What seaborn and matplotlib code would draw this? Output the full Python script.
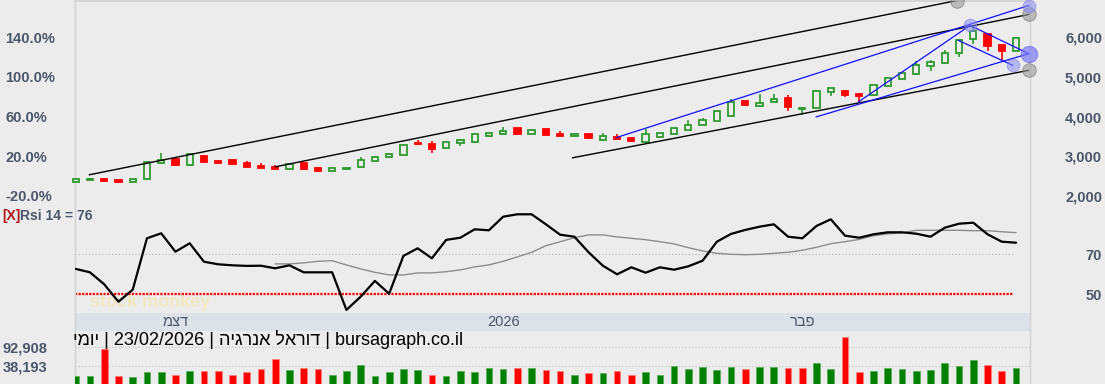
import numpy as np
import matplotlib
matplotlib.use("Agg")
import matplotlib.pyplot as plt
import seaborn as sns

# == DATA ==
# daily candles (price)
opens = [2349, 2391, 2432, 2399, 2341, 2417, 2819, 2919, 2768, 3010,
         2876, 2894, 2834, 2751, 2726, 2675, 2826, 2701, 2618, 2668,
         2726, 2869, 2970, 3027, 3336, 3311, 3203, 3321, 3347, 3512,
         3555, 3713, 3562, 3681, 3562, 3497, 3547, 3404, 3487, 3462,
         3346, 3472, 3555, 3655, 3781, 3894, 4017, 4379, 4276, 4367,
         4474, 4200, 4225, 4623, 4635, 4560, 4534, 4761, 4954, 5062,
         5271, 5339, 5598, 5942, 6075, 5791, 5640]
highs = [2432, 2442, 2440, 2405, 2420, 2850, 3078, 2930, 3060, 3035,
         2885, 2900, 2876, 2826, 2768, 2800, 2835, 2726, 2715, 2715,
         2977, 3002, 3085, 3280, 3412, 3371, 3370, 3405, 3555, 3588,
         3731, 3720, 3690, 3690, 3630, 3570, 3555, 3588, 3571, 3470,
         3676, 3580, 3720, 3907, 3950, 4150, 4433, 4390, 4564, 4560,
         4541, 4245, 4660, 4725, 4640, 4577, 4795, 4978, 5105, 5402,
         5414, 5683, 5945, 6294, 6085, 5800, 5985]
lows = [2331, 2366, 2375, 2350, 2338, 2410, 2810, 2775, 2760, 2845,
        2809, 2800, 2725, 2705, 2678, 2668, 2678, 2608, 2610, 2660,
        2720, 2860, 2965, 3020, 3290, 3085, 3195, 3261, 3340, 3487,
        3545, 3540, 3555, 3522, 3505, 3490, 3445, 3395, 3420, 3365,
        3340, 3465, 3548, 3648, 3775, 3887, 4010, 4266, 4268, 4360,
        4140, 4032, 4218, 4522, 4492, 4366, 4525, 4752, 4945, 5055,
        5145, 5330, 5497, 5834, 5648, 5414, 5630]
closes = [2417, 2432, 2381, 2356, 2417, 2844, 2909, 2783, 3052, 2851,
          2826, 2809, 2733, 2713, 2683, 2794, 2683, 2633, 2708, 2712,
          2894, 2970, 3052, 3271, 3296, 3185, 3362, 3397, 3548, 3573,
          3630, 3547, 3663, 3530, 3512, 3562, 3454, 3505, 3429, 3372,
          3550, 3573, 3713, 3798, 3907, 4141, 4367, 4298, 4351, 4452,
          4238, 4225, 4652, 4718, 4534, 4528, 4786, 4969, 5095, 5306,
          5364, 5608, 5934, 6151, 5774, 5648, 5975]
volumes = [8300, 8300, 86800, 8300, 5400, 18400, 18400, 11300, 21400, 21400,
           21400, 9500, 18400, 27400, 57100, 24400, 30300, 27400, 11300, 21400,
           41000, 8300, 18400, 28300, 24400, 11300, 8300, 21400, 18400, 30300,
           27400, 31200, 31200, 25300, 21400, 11300, 15500, 15500, 21400, 11300,
           18400, 11300, 36300, 28300, 34200, 24400, 33300, 27400, 33300, 33300,
           30300, 30300, 45200, 27400, 124300, 18400, 21400, 30300, 27400, 21400,
           24400, 45200, 36300, 54100, 39300, 21400, 30300]
rsi = [62.7, 61.0, 55.0, 46.3, 52.3, 78.0, 80.5, 71.3, 75.5, 66.3,
       65.0, 64.5, 64.2, 64.3, 63.0, 64.5, 61.0, 61.0, 61.0, 42.2,
       48.8, 56.7, 50.3, 69.2, 73.0, 68.0, 77.2, 78.3, 82.5, 82.0,
       88.8, 90.0, 90.0, 85.0, 79.8, 78.8, 71.0, 64.3, 60.0, 63.5,
       60.8, 63.5, 62.3, 64.0, 66.8, 76.3, 80.2, 82.2, 83.8, 85.0,
       78.8, 78.0, 84.2, 87.5, 79.3, 78.3, 80.0, 81.0, 81.0, 80.3,
       78.8, 83.3, 85.3, 85.8, 80.0, 76.3, 75.8]
rsi_signal = [np.nan] * 14 + [
    65.2, 65.2, 65.7, 66.5, 66.8, 64.7, 62.7, 61.0, 59.7, 59.7,
    60.7, 60.7, 61.3, 62.2, 63.7, 64.7, 66.5, 68.7, 71.0, 74.3,
    76.3, 78.3, 79.7, 79.7, 78.7, 78.0, 77.3, 76.3, 75.2, 73.3,
    71.7, 70.5, 70.0, 69.8, 70.0, 70.5, 71.0, 72.0, 73.5, 75.3,
    76.3, 77.5, 79.3, 80.2, 80.7, 82.0, 82.0, 82.0, 82.0, 81.8,
    81.8, 81.3, 80.8]

# drawn trend lines: (candle index, price) end points
black_lines = [((0.95, 2532), (61.86, 6922)),
               ((14.01, 2733), (66.89, 6570)),
               ((34.86, 2959), (66.89, 5163))]
blue_lines = [((37.97, 3472), (66.89, 6796)),
              ((51.96, 3989), (66.89, 5583)),
              ((54.93, 4366), (62.77, 6294)),
              ((62.77, 6294), (66.89, 5583)),
              ((61.95, 5917), (65.77, 5289))]
blue_handles = [(66.89, 6796), (62.77, 6294), (65.77, 5289)]
blue_big_handle = (66.89, 5583)

base_price = 2500
price_ticks = [2000, 3000, 4000, 5000, 6000]
pct_ticks = [-20, 20, 60, 100, 140]
rsi_ticks = [70, 50]
vol_ticks = [92908, 38193]
month_pos = [7, 30, 51]
month_labels = ["דצמ", "2026", "פבר"]
title_parts = ["יומי", "23/02/2026", "דוראל אנרגיה", "bursagraph.co.il"]
rsi_label = "Rsi 14 = 76"


def visual(s):
    # matplotlib has no bidi, so flip Hebrew runs into display order
    if any("\u0590" <= ch <= "\u05ff" for ch in s):
        return s[::-1]
    return s


# == STYLE ==
BG = "#ececec"
SLATE = "#4b566a"
GREEN = "#2e9a2e"
RED = "#ff0000"
EDGE = "#d2d2d2"
sns.set_theme(style="white", rc={"axes.facecolor": BG, "figure.facecolor": BG})
plt.rcParams["font.family"] = ["Liberation Sans", "DejaVu Sans"]

W, H = 1105, 384
fig = plt.figure(figsize=(W / 100, H / 100), dpi=100)


def rect(x0, y0, x1, y1):
    return [x0 / W, 1 - y1 / H, (x1 - x0) / W, (y1 - y0) / H]


ax_p = fig.add_axes(rect(75, 0.5, 1030, 205))
ax_r = fig.add_axes(rect(75, 205, 1030, 313))
ax_d = fig.add_axes(rect(75, 313, 1030, 331))
ax_v = fig.add_axes(rect(75, 331, 1030, 384))

idx = np.arange(len(closes))
o, h, l, c = map(np.array, (opens, highs, lows, closes))
up = c >= o
XLIM = (-0.05, 66.98)

for ax in (ax_p, ax_r, ax_d, ax_v):
    ax.set_xlim(*XLIM)
    ax.set_facecolor(BG)
    for side in ("top", "bottom"):
        ax.spines[side].set_visible(False)
    for side in ("left", "right"):
        ax.spines[side].set_color(EDGE)
        ax.spines[side].set_linewidth(1)
    ax.set_xticks([])
ax_p.spines["top"].set_visible(True)
ax_p.spines["top"].set_color(EDGE)

PX = 100 / 72  # pixels per point


def style_labels(axis_labels, ha, size=10.5):
    for t in axis_labels:
        t.set_ha(ha)
        t.set_fontweight("bold")
        t.set_color(SLATE)
        t.set_fontsize(size)


# == PRICE PANEL ==
ax_p.set_ylim(1771, 6922)
edge_col = np.where(up, GREEN, RED)
ax_p.vlines(idx, l, h, colors=edge_col, lw=1.2, zorder=2, clip_on=False)
ax_p.bar(idx, c - o, bottom=o, width=0.44,
         color=np.where(up, BG, RED), edgecolor=edge_col, linewidth=1.3,
         zorder=3, clip_on=False)

for (x0, y0), (x1, y1) in black_lines:
    ax_p.plot([x0, x1], [y0, y1], color="black", lw=1.0, zorder=4)
    ax_p.scatter([x1], [y1], s=95, color="#9a9a9a", alpha=0.6,
                 edgecolor="#7a7a7a", linewidth=0.8, zorder=5, clip_on=False)
for (x0, y0), (x1, y1) in blue_lines:
    ax_p.plot([x0, x1], [y0, y1], color="#1010ff", lw=0.9, zorder=4)
hx, hy = zip(*blue_handles)
ax_p.scatter(hx, hy, s=85, color="#8c8cf5", alpha=0.55, edgecolor="#7070f0",
             linewidth=0.6, zorder=5, clip_on=False)
ax_p.scatter([blue_big_handle[0]], [blue_big_handle[1]], s=140, color="#7a7af5",
             alpha=0.7, edgecolor="#5c5cf0", linewidth=0.6, zorder=5, clip_on=False)

ax_p.yaxis.tick_right()
ax_p.set_yticks(price_ticks, [f"{v:,}" for v in price_ticks])
ax_p.tick_params(axis="y", length=0, pad=72 / PX)
style_labels(ax_p.get_yticklabels(), "right")

pct = ax_p.secondary_yaxis(
    "left",
    functions=(lambda p: p / base_price * 100 - 100,
               lambda q: (q + 100) * base_price / 100))
pct.set_yticks(pct_ticks, [f"{v:.1f}%" for v in pct_ticks])
pct.tick_params(axis="y", length=0, pad=70 / PX)
pct.spines["left"].set_visible(False)
style_labels(pct.get_yticklabels(), "left")

# == RSI PANEL ==
ax_r.set_ylim(40.65, 94.65)
ax_r.axhline(70, xmax=0.982, color="#b5b5b5", ls=(0, (1, 2)), lw=0.8, zorder=1)
ax_r.axhline(50, xmax=0.982, color=RED, ls=(0, (1, 0.6)), lw=1.6, zorder=1)
sns.lineplot(x=idx, y=rsi_signal, ax=ax_r, color="#8c8c8c", lw=1.0, zorder=2)
sns.lineplot(x=idx, y=rsi, ax=ax_r, color="black", lw=1.6, zorder=3)
ax_r.text(5.2, 46, "stock monkey", ha="center", va="center", fontsize=13,
          fontweight="bold", color="#f4e6a6", alpha=0.6, zorder=0)
ax_r.set_ylabel("")
ax_r.yaxis.tick_right()
ax_r.set_yticks(rsi_ticks, [str(v) for v in rsi_ticks])
ax_r.tick_params(axis="y", length=0, pad=72 / PX)
style_labels(ax_r.get_yticklabels(), "right")

fig.text(2 / W, 1 - 216 / H, "[X]", color="#b01515", fontsize=10,
         fontweight="bold", va="center", ha="left")
fig.text(20.5 / W, 1 - 216 / H, rsi_label, color=SLATE, fontsize=10,
         fontweight="bold", va="center", ha="left")

# == DATE BAND ==
ax_d.set_facecolor("#dde1e8")
ax_d.set_yticks([])
for pos, lab in zip(month_pos, month_labels):
    ax_d.text(pos, 0.5, visual(lab), transform=ax_d.get_xaxis_transform(),
              ha="center", va="center", fontsize=10.5, color=SLATE)

# == VOLUME PANEL ==
VOL_FLOOR = -16357
ax_v.set_ylim(VOL_FLOOR, 141265)
vol = np.array(volumes)
vol_up = np.r_[True, c[1:] >= c[:-1]]
vcol = np.where(vol_up, "#008000", RED)
ax_v.bar(idx, vol - VOL_FLOOR, bottom=VOL_FLOOR, width=0.47, color=vcol,
         edgecolor=np.where(vol_up, "#5fae5f", "#ff8080"), linewidth=0.6,
         zorder=3)
ax_v.set_yticks(vol_ticks, [f"{v:,}" for v in vol_ticks])
ax_v.yaxis.grid(True, color="#c4c4c4", ls=(0, (1, 2)), lw=0.8)
ax_v.tick_params(axis="y", length=0, pad=72 / PX)
style_labels(ax_v.get_yticklabels(), "left")

title = " | ".join(visual(t) for t in title_parts)
ax_v.text(-0.002, 0.84, title, transform=ax_v.transAxes, ha="left",
          va="center", fontsize=13, color="black", zorder=4)

fig.savefig("out.png", dpi=100, facecolor=BG)
